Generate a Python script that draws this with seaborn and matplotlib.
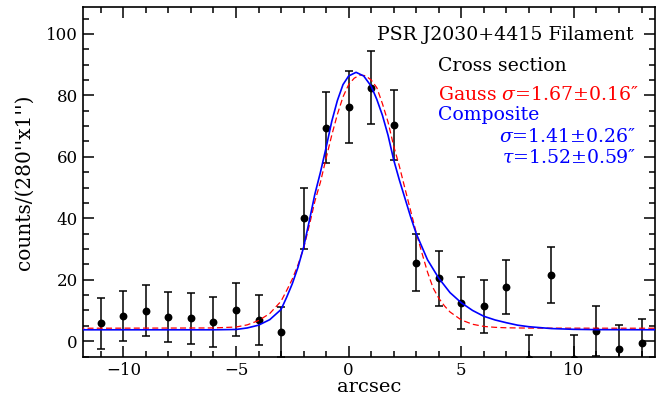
import numpy as np
import pandas as pd
import matplotlib
matplotlib.use("Agg")
import matplotlib.pyplot as plt
import seaborn as sns
from matplotlib.ticker import MultipleLocator

# -------------------------------
# Data
# -------------------------------
offset = [-11, -10, -9, -8, -7, -6, -5, -4, -3, -2, -1, 0, 1,
          2, 3, 4, 5, 6, 7, 8, 9, 10, 11, 12, 13]
counts = [5.8, 8.1, 9.9, 7.9, 7.4, 6.3, 10.3, 6.8, 3.0, 40.0, 69.5, 76.3, 82.5,
          70.4, 25.5, 20.4, 12.5, 11.4, 17.5, -5.8, 21.5, -5.8, 3.4, -2.6, -0.5]
count_err = [8.2, 8.2, 8.3, 8.2, 8.2, 8.2, 8.5, 8.2, 8.0, 10.0, 11.5, 11.7, 11.9,
             11.5, 9.3, 9.0, 8.5, 8.6, 8.8, 7.8, 9.1, 7.8, 8.1, 7.8, 7.7]

# Gaussian fit (red dashed)
gauss_x = [-12, -6, -5, -4.5, -4, -3.5, -3, -2.75, -2.5, -2.25, -2, -1.75, -1.5,
           -1.25, -1, -0.75, -0.5, -0.25, 0, 0.25, 0.5, 0.75, 1.0, 1.25, 1.5, 1.75,
           2.0, 2.25, 2.5, 2.75, 3.0, 3.25, 3.5, 3.75, 4.0, 4.25, 4.5, 5, 5.5, 6,
           6.5, 7, 8, 14]
gauss_y = [4.2, 4.3, 4.6, 5.3, 6.7, 9.0, 13.0, 16.5, 20.2, 24.8, 30.2, 37.5, 45.5,
           51.8, 59.5, 67.0, 73.8, 79.5, 83.5, 85.6, 86.6, 86.4, 85.0, 82.5, 77.3, 71.3,
           63.5, 57.0, 49.7, 42.5, 35.3, 28.8, 22.5, 17.3, 14.0, 11.5, 9.5, 6.9, 5.5, 4.8,
           4.5, 4.35, 4.25, 4.2]

# Composite fit (blue)
comp_x = [-12, -6, -5, -4.5, -4, -3.5, -3, -2.75, -2.5, -2.25, -2, -1.75, -1.5,
          -1.25, -1, -0.75, -0.5, -0.25, 0, 0.33, 0.67, 1.0, 1.25, 1.5, 1.75, 2.0,
          2.25, 2.5, 2.75, 3.0, 3.5, 4.0, 4.5, 5, 5.5, 6, 6.5, 7, 7.5, 8, 9, 10, 11, 14]
comp_y = [3.7, 3.7, 3.8, 4.3, 5.2, 7.0, 10.3, 14.3, 18.7, 24.0, 30.5, 39.0, 47.8,
          55.0, 63.0, 71.5, 78.3, 83.5, 86.3, 87.5, 86.3, 83.0, 78.7, 73.5, 67.0, 59.0,
          52.5, 46.5, 40.5, 35.0, 26.5, 20.5, 15.8, 12.5, 10.0, 8.1, 6.9, 6.0, 5.2, 4.7,
          4.1, 3.85, 3.75, 3.7]

df_pts = pd.DataFrame({"arcsec": offset, "counts": counts, "err": count_err})
df_gauss = pd.DataFrame({"arcsec": gauss_x, "counts": gauss_y})
df_comp = pd.DataFrame({"arcsec": comp_x, "counts": comp_y})

# -------------------------------
# Style
# -------------------------------
sns.set_style("ticks")
plt.rcParams["font.family"] = ["DejaVu Serif"]
plt.rcParams["mathtext.fontset"] = "dejavuserif"
plt.rcParams["text.color"] = "black"
plt.rcParams["axes.labelcolor"] = "black"

fig = plt.figure(figsize=(6.57, 4.04), dpi=100)
ax = fig.add_axes([0.126, 0.116, 0.871, 0.867])

# -------------------------------
# Plot
# -------------------------------
ax.errorbar(df_pts["arcsec"], df_pts["counts"], yerr=df_pts["err"], fmt="none",
            ecolor="black", elinewidth=1.1, capsize=3, capthick=1.1, zorder=2)
sns.scatterplot(data=df_pts, x="arcsec", y="counts", color="black", s=32,
                edgecolor="black", linewidth=0, ax=ax, zorder=3)
sns.lineplot(data=df_gauss, x="arcsec", y="counts", color="red", lw=0.9,
             linestyle=(0, (4.8, 2.6)), ax=ax, zorder=4)
sns.lineplot(data=df_comp, x="arcsec", y="counts", color="blue", lw=1.2,
             ax=ax, zorder=5)

ax.set_xlim(-11.8, 13.6)
ax.set_ylim(-5.2, 108.8)
ax.xaxis.set_major_locator(MultipleLocator(5))
ax.xaxis.set_minor_locator(MultipleLocator(1))
ax.yaxis.set_major_locator(MultipleLocator(20))
ax.yaxis.set_minor_locator(MultipleLocator(5))
ax.tick_params(which="both", direction="in", top=True, right=True, width=1.1,
               labelsize=12, colors="black")
ax.tick_params(which="major", length=8)
ax.tick_params(which="minor", length=4.5)
for sp in ax.spines.values():
    sp.set_linewidth(1.2)
    sp.set_color("black")

ax.set_xlabel("arcsec", fontsize=14, labelpad=-1, color="black")
ax.set_ylabel("counts/(280''x1'')", fontsize=14.5, labelpad=9, color="black")

# -------------------------------
# Annotations
# -------------------------------
fs = 13.6
ax.text(0.963, 0.92, "PSR J2030+4415 Filament", transform=ax.transAxes,
        ha="right", va="center", fontsize=fs, color="black")
ax.text(0.621, 0.831, "Cross section", transform=ax.transAxes,
        ha="left", va="center", fontsize=fs, color="black")
ax.text(0.621, 0.749, r"Gauss $\sigma$=1.67±0.16″", transform=ax.transAxes,
        ha="left", va="center", fontsize=fs, color="red")
ax.text(0.621, 0.692, "Composite", transform=ax.transAxes,
        ha="left", va="center", fontsize=fs, color="blue")
ax.text(0.967, 0.629, r"$\sigma$=1.41±0.26″", transform=ax.transAxes,
        ha="right", va="center", fontsize=fs, color="blue")
ax.text(0.967, 0.569, r"$\tau$=1.52±0.59″", transform=ax.transAxes,
        ha="right", va="center", fontsize=fs, color="blue")

fig.savefig("out.png", dpi=100)
